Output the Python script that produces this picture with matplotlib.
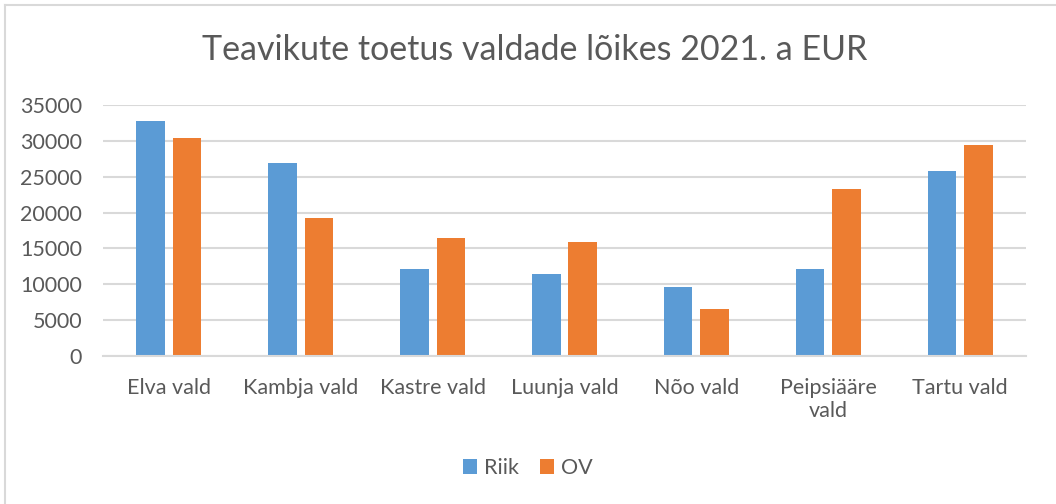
import matplotlib.pyplot as plt
from matplotlib.lines import Line2D
import numpy as np

# data
categories = ['Elva vald', 'Kambja vald', 'Kastre vald', 'Luunja vald',
              'Nõo vald', 'Peipsiääre\nvald', 'Tartu vald']
riik = [32700, 26950, 12100, 11500, 9670, 12180, 25850]
ov = [30400, 19200, 16500, 15950, 6600, 23250, 29430]
yticks = [0, 5000, 10000, 15000, 20000, 25000, 30000, 35000]

BLUE = '#5B9BD5'
ORANGE = '#ED7D31'
TEXT = '#595959'
GRID = '#D9D9D9'

plt.rcParams['font.family'] = ['Lato', 'DejaVu Sans']

fig = plt.figure(figsize=(10.56, 5.04), dpi=100)
ax = fig.add_axes([103 / 1056, 1 - 356 / 504, 923 / 1056, 251 / 504])

x = np.arange(len(categories))
w = 0.216
off = 0.138
ax.bar(x - off, riik, w, color=BLUE, label='Riik', zorder=3)
ax.bar(x + off, ov, w, color=ORANGE, label='OV', zorder=3)

ax.set_xlim(-0.5, len(categories) - 0.5)
ax.set_ylim(0, 35000)
ax.set_yticks(yticks)
ax.set_yticklabels([str(v) for v in yticks])
ax.set_xticks(x)
ax.set_xticklabels(categories, linespacing=1.2)
ax.tick_params(axis='both', length=0, labelsize=15.5, colors=TEXT)
ax.tick_params(axis='x', pad=16)
ax.tick_params(axis='y', pad=15)
ax.yaxis.grid(True, color=GRID, linewidth=1.5, zorder=0)
for s in ['top', 'right', 'left']:
    ax.spines[s].set_visible(False)
ax.spines['bottom'].set_color(GRID)
ax.spines['bottom'].set_linewidth(1.5)
ax.spines['bottom'].set_zorder(4)

fig.text(535 / 1056, 1 - 50 / 504, 'Teavikute toetus valdade lõikes 2021. a EUR',
         ha='center', va='center', fontsize=24.5, color=TEXT)

ax.legend(loc='center', bbox_to_anchor=(528 / 1056, 1 - 468 / 504),
          bbox_transform=fig.transFigure, ncol=2, frameon=False,
          fontsize=15.5, labelcolor=TEXT, handlelength=0.65, handleheight=0.65,
          handletextpad=0.3, columnspacing=1.0)

# chart border (only top and left edges are visible in the reference)
fig.add_artist(Line2D([5 / 1056, 1], [1 - 5 / 504, 1 - 5 / 504],
                      transform=fig.transFigure, color=GRID, linewidth=1.5))
fig.add_artist(Line2D([5 / 1056, 5 / 1056], [0, 1 - 5 / 504],
                      transform=fig.transFigure, color=GRID, linewidth=1.5))

fig.savefig('out.png', dpi=100, facecolor='white')
